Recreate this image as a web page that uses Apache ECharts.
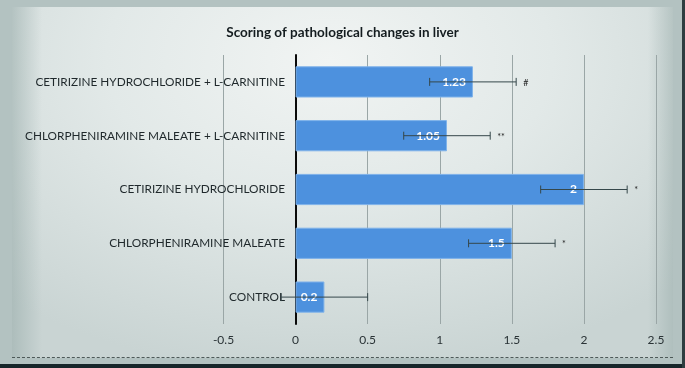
<!DOCTYPE html>
<html>
<head>
<meta charset="utf-8">
<script src="https://cdn.jsdelivr.net/npm/echarts@6/dist/echarts.min.js"></script>
<style>
  html, body { margin: 0; padding: 0; }
  #wrap { position: relative; width: 685px; height: 368px; background: #b3c2c1; overflow: hidden; }
  #panel { position: absolute; left: 12px; top: 7px; width: 661px; height: 351px;
    background:
      linear-gradient(to right, rgba(150,170,168,0.55) 0px, rgba(150,170,168,0) 30px),
      linear-gradient(to left, rgba(150,170,168,0.5) 0px, rgba(150,170,168,0) 25px),
      radial-gradient(ellipse 75% 90% at 48% 15%, #f1f4f3 0%, #e2e9e8 45%, #c9d4d3 100%); }
  #dash { position: absolute; left: 12px; top: 357px; width: 661px; border-top: 1px dashed #4d5958; }
  #bot { position: absolute; left: 0; top: 364px; width: 685px; height: 4px; background: #17262a; }
  #rgt { position: absolute; left: 682px; top: 0; width: 3px; height: 368px; background: #2e3d40; }
  #chart { position: absolute; left: 0; top: 0; width: 685px; height: 368px; }
</style>
</head>
<body>
<div id="wrap">
  <div id="panel"></div>
  <div id="dash"></div>
  <div id="bot"></div>
  <div id="rgt"></div>
  <div id="chart"></div>
</div>
<script>
const title = 'Scoring of pathological changes in liver';
const categories = ['CONTROL', 'CHLORPHENIRAMINE MALEATE', 'CETIRIZINE HYDROCHLORIDE',
  'CHLORPHENIRAMINE MALEATE + L-CARNITINE', 'CETIRIZINE HYDROCHLORIDE + L-CARNITINE'];
const values = [0.2, 1.5, 2, 1.05, 1.23];
const errors = [0.3, 0.3, 0.3, 0.3, 0.3];
const marks = ['', '*', '*', '**', '#'];
const xTicks = [-0.5, 0, 0.5, 1, 1.5, 2, 2.5];

const errData = values.map((v, i) => [v - errors[i], v + errors[i], i, marks[i]]);

const chart = echarts.init(document.getElementById('chart'), null, { renderer: 'canvas' });
const FONT = 'Lato, "Open Sans", sans-serif';
chart.setOption({
  backgroundColor: 'transparent',
  animation: false,
  title: {
    text: title, left: 'center', top: 21,
    textStyle: { fontFamily: FONT, fontSize: 13.5, fontWeight: 'bold', color: '#141c1f' }
  },
  grid: { left: 223.5, right: 29, top: 55, bottom: 44, containLabel: false, outerBoundsMode: 'none' },
  xAxis: {
    type: 'value', min: xTicks[0], max: xTicks[xTicks.length - 1], interval: 0.5,
    axisLine: { show: false }, axisTick: { show: false },
    axisLabel: { fontFamily: FONT, fontSize: 12, color: '#2a3336', margin: 10 },
    splitLine: { show: true, lineStyle: { color: '#9aa6a6', width: 1 } }
  },
  yAxis: {
    type: 'category', data: categories,
    axisLine: { show: true, onZero: true, lineStyle: { color: '#0a0a0a', width: 2 } },
    axisTick: { show: false },
    axisLabel: { fontFamily: FONT, fontSize: 11.8, color: '#1f282b', margin: -61.5 }
  },
  series: [
    {
      type: 'bar', data: values, barWidth: '58%', z: 2,
      itemStyle: { color: '#4d91de', borderColor: '#7fb2ea', borderWidth: 1 },
      label: {
        show: true, position: 'insideRight', distance: 7,
        fontFamily: FONT, fontSize: 12, fontWeight: 'bold', color: '#ffffff'
      }
    },
    {
      type: 'custom', data: errData, z: 3,
      encode: { x: [0, 1], y: 2 },
      renderItem: function (params, api) {
        const lo = api.coord([api.value(0), api.value(2)]);
        const hi = api.coord([api.value(1), api.value(2)]);
        const h = 4;
        const st = { stroke: '#35474a', lineWidth: 1 };
        const mk = marks[params.dataIndex];
        const children = [
          { type: 'line', shape: { x1: lo[0], y1: lo[1], x2: hi[0], y2: hi[1] }, style: st },
          { type: 'line', shape: { x1: lo[0], y1: lo[1] - h, x2: lo[0], y2: lo[1] + h }, style: st },
          { type: 'line', shape: { x1: hi[0], y1: hi[1] - h, x2: hi[0], y2: hi[1] + h }, style: st }
        ];
        if (mk) {
          children.push({
            type: 'text', style: {
              text: mk, x: hi[0] + 7, y: hi[1] + 1, textAlign: 'left', textVerticalAlign: 'middle',
              fontFamily: FONT, fontSize: 9, fill: '#222'
            }
          });
        }
        return { type: 'group', children: children };
      }
    }
  ]
});
</script>
</body>
</html>
